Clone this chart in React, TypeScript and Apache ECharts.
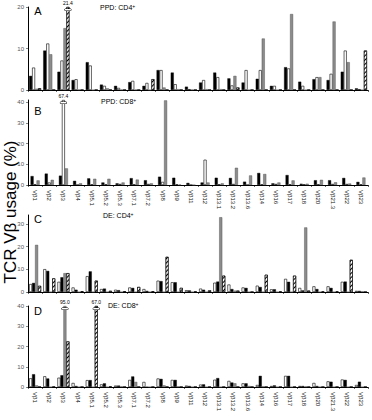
import React, { useEffect, useRef } from 'react';
import * as echarts from 'echarts';

const categories = ['Vβ1', 'Vβ2', 'Vβ3', 'Vβ4', 'Vβ5.1', 'Vβ5.2', 'Vβ5.3', 'Vβ7.1', 'Vβ7.2', 'Vβ8', 'Vβ9', 'Vβ11', 'Vβ12', 'Vβ13.1', 'Vβ13.2', 'Vβ13.6', 'Vβ14', 'Vβ16', 'Vβ17', 'Vβ18', 'Vβ20', 'Vβ21.3', 'Vβ22', 'Vβ23'];

// Panel A: PPD CD4+
const ppdCd4Black = [3.4, 9.5, 4.4, 2.4, 6.7, 1.3, 1.0, 1.9, 1.0, 4.8, 4.2, 0.8, 1.8, 4.2, 2.8, 1.8, 2.7, 1.0, 5.5, 2.0, 2.6, 2.4, 4.4, 0.4];
const ppdCd4White = [5.4, 11.2, 7.1, 2.6, 5.9, 1.0, 0.5, 2.2, 1.7, 4.8, 1.4, 0.2, 2.4, 3.1, 1.1, 4.8, 4.8, 1.0, 5.2, 1.0, 3.1, 3.9, 9.5, 0.2];
const ppdCd4Gray = [0.3, 8.6, 14.9, 0.1, 0, 0.4, 0.1, 0.1, 0, 0.6, 0.2, 0.1, 0.2, 0.2, 3.4, 0, 12.4, 0, 18.3, 0, 3.1, 16.5, 6.7, 0];
const ppdCd4Hatched = [0.4, 0, 21.4, 0, 0, 0, 0, 0, 2.6, 0, 0, 0, 0, 0, 0.6, 0, 0, 0, 0, 0, 0, 0, 0, 9.5];

// Panel B: PPD CD8+
const ppdCd8Black = [4.3, 5.5, 4.5, 2.0, 3.2, 1.2, 0.8, 3.3, 2.3, 4.0, 3.5, 1.0, 1.2, 3.5, 3.4, 1.6, 5.8, 0.8, 4.8, 0.6, 2.3, 2.3, 3.4, 1.5];
const ppdCd8White = [0.3, 1.2, 67.4, 0, 0.3, 0.3, 0.5, 0.3, 0.5, 1.5, 0.3, 0, 12.2, 0.3, 0.5, 0, 0.3, 0.5, 0.3, 0.3, 0.3, 0.5, 0.5, 0.3];
const ppdCd8Gray = [2.2, 2.5, 8.0, 0.8, 3.0, 3.0, 1.2, 2.6, 0.8, 40.8, 0.2, 0, 1.2, 0.8, 8.3, 4.6, 5.3, 1.2, 2.2, 0.6, 2.5, 1.3, 0.7, 3.6];

// Panel C: DE CD4+
const deCd4White = [3.5, 10.1, 4.5, 2.0, 7.0, 1.3, 1.0, 2.0, 1.3, 5.0, 4.3, 0.8, 1.5, 4.1, 3.3, 2.0, 2.8, 1.2, 5.8, 1.8, 2.5, 2.5, 4.5, 0.5];
const deCd4Black = [4.0, 9.3, 6.5, 1.0, 9.1, 1.5, 0.8, 1.8, 0.5, 4.8, 4.3, 0.7, 1.0, 4.6, 1.3, 1.8, 2.2, 1.2, 4.5, 0.7, 1.3, 1.8, 4.6, 0.5];
const deCd4Gray = [20.8, 0, 8.3, 0, 0, 0, 0, 0, 0, 0, 0, 0, 0, 33.0, 0.6, 0, 0, 0, 0, 28.5, 0, 0, 0, 0.3];
const deCd4Hatched = [2.7, 6.0, 8.3, 0.3, 5.0, 0.5, 0.3, 2.2, 0.3, 15.5, 1.8, 0.2, 0.7, 7.2, 0.6, 0, 7.6, 0.2, 7.2, 0.6, 0.2, 0.2, 14.2, 0];

// Panel D: DE CD8+
const deCd8White = [4.3, 5.3, 4.6, 2.0, 3.4, 1.3, 0.7, 3.5, 2.5, 4.2, 3.5, 0.7, 1.2, 3.6, 3.0, 1.8, 1.0, 0.5, 5.5, 0.5, 2.0, 2.8, 3.7, 1.0];
const deCd8Black = [6.3, 4.2, 5.8, 0.5, 3.4, 1.8, 0.7, 5.2, 0, 4.0, 3.5, 0.5, 1.3, 4.4, 2.2, 1.8, 5.5, 0.8, 5.5, 0.5, 0.5, 2.6, 3.5, 2.6];
const deCd8Gray = [0.8, 0, 95.0, 0, 0, 0, 0.3, 2.5, 0, 0.8, 0.3, 0, 0, 0, 1.8, 0.5, 0.3, 0, 0, 0.3, 0, 0, 0, 0];
const deCd8Hatched = [0, 0.1, 22.5, 0, 67.0, 0.2, 0, 0, 0, 0, 0, 0, 0, 0, 0, 0, 0, 0, 0, 0, 0, 0, 0, 0];

const yTicks20 = [0, 10, 20];
const yTicks30 = [0, 10, 20, 30];
const yTicks40 = [0, 10, 20, 30, 40];

const FONT = 'Liberation Sans, Arial, sans-serif';

type Kind = 'black' | 'white' | 'gray' | 'hatched';

const kindStyle: Record<Kind, any> = {
  black: { color: '#000', borderColor: '#000', borderWidth: 0.4 },
  white: { color: '#fff', borderColor: '#000', borderWidth: 0.6 },
  gray: { color: '#8c8c8c', borderColor: '#444', borderWidth: 0.4 },
  hatched: {
    color: '#fff',
    borderColor: '#000',
    borderWidth: 0.5,
    decal: {
      symbol: 'rect',
      symbolSize: 1,
      dashArrayX: [[1, 0]],
      dashArrayY: [1, 1.2],
      rotation: -Math.PI / 4,
      color: '#000',
    },
  },
};

const panels = [
  { letter: 'A', title: 'PPD: CD4', max: 20, ticks: yTicks20, top: 7, height: 83, labels: false, titlePos: [100, 7], letterPos: [38, 11],
    series: [['black', ppdCd4Black], ['white', ppdCd4White], ['gray', ppdCd4Gray], ['hatched', ppdCd4Hatched]] },
  { letter: 'B', title: 'PPD: CD8', max: 41, ticks: yTicks40, top: 100, height: 85, labels: true, titlePos: [101, 101], letterPos: [38, 111],
    series: [['black', ppdCd8Black], ['white', ppdCd8White], ['gray', ppdCd8Gray]] },
  { letter: 'C', title: 'DE: CD4', max: 34, ticks: yTicks30, top: 215, height: 77, labels: false, titlePos: [103, 215], letterPos: [38, 219],
    series: [['white', deCd4White], ['black', deCd4Black], ['gray', deCd4Gray], ['hatched', deCd4Hatched]] },
  { letter: 'D', title: 'DE: CD8', max: 40, ticks: yTicks40, top: 306, height: 81, labels: true, titlePos: [108, 305], letterPos: [38, 311],
    series: [['white', deCd8White], ['black', deCd8Black], ['gray', deCd8Gray], ['hatched', deCd8Hatched]] },
];

function breakLabel(v: number) {
  return {
    show: true,
    position: 'insideTop',
    distance: 0,
    offset: [0, -7],
    formatter: `{v|${v.toFixed(1)}}\n{g|}\n{b|}`,
    rich: {
      v: { fontSize: 5, lineHeight: 6, height: 6, color: '#000', fontFamily: FONT },
      g: { fontSize: 1, lineHeight: 3, height: 3 },
      b: { fontSize: 1, width: 6, height: 1.5, lineHeight: 1.5, backgroundColor: '#fff', borderColor: '#000', borderWidth: 0.5 },
    },
  };
}

export default function App() {
  const ref = useRef<HTMLDivElement>(null);
  useEffect(() => {
    if (!ref.current) return;
    const chart = echarts.init(ref.current, null, { renderer: 'svg' });
    const grid: any[] = [];
    const xAxis: any[] = [];
    const yAxis: any[] = [];
    const series: any[] = [];
    const graphic: any[] = [];
    panels.forEach((p, i) => {
      grid.push({ left: 28, top: p.top, width: 340, height: p.height, containLabel: false });
      xAxis.push({
        type: 'category',
        gridIndex: i,
        data: categories,
        axisLine: { show: true, lineStyle: { color: '#000', width: 1 } },
        axisTick: { show: true, length: 2, lineStyle: { color: '#000', width: 0.6 } },
        axisLabel: { show: p.labels, rotate: -90, fontSize: 6, margin: 5, color: '#111', fontFamily: FONT, interval: 0 },
        splitLine: { show: false },
      });
      yAxis.push({
        type: 'value',
        gridIndex: i,
        min: 0,
        max: p.max,
        interval: 10,
        axisLine: { show: true, lineStyle: { color: '#000', width: 1 } },
        axisTick: { show: true, length: 2, customValues: p.ticks, lineStyle: { color: '#333', width: 0.6 } },
        axisLabel: { fontSize: 6, margin: 4, color: '#555', fontFamily: FONT, customValues: p.ticks },
        splitLine: { show: false },
      });
      p.series.forEach(([kind, values]: any) => {
        series.push({
          type: 'bar',
          xAxisIndex: i,
          yAxisIndex: i,
          barWidth: 3,
          barGap: '0%',
          silent: true,
          itemStyle: kindStyle[kind as Kind],
          data: (values as number[]).map((v) => (v > p.max ? { value: p.max, label: breakLabel(v) } : v)),
        });
      });
      graphic.push({
        type: 'text',
        x: p.letterPos[0],
        y: p.letterPos[1],
        style: { text: p.letter, fontSize: 11, fontFamily: FONT, fill: '#000', textAlign: 'center', textVerticalAlign: 'middle' },
      });
      graphic.push({
        type: 'text',
        x: p.titlePos[0],
        y: p.titlePos[1],
        style: {
          text: p.title + '{s|+}',
          fontSize: 7,
          fontFamily: FONT,
          fill: '#000',
          textAlign: 'left',
          textVerticalAlign: 'middle',
          rich: { s: { fontSize: 5, verticalAlign: 'top', fontFamily: FONT } },
        },
      });
    });
    graphic.push({
      type: 'text',
      x: 10,
      y: 212,
      rotation: Math.PI / 2,
      style: { text: 'TCR Vβ usage (%)', fontSize: 17, fontFamily: FONT, fill: '#000', textAlign: 'center', textVerticalAlign: 'middle' },
    });
    chart.setOption({ animation: false, grid, xAxis, yAxis, series, graphic });
    return () => chart.dispose();
  }, []);
  return <div ref={ref} style={{ position: 'fixed', left: 0, top: 0, width: 372, height: 420, background: '#fff' }} />;
}
